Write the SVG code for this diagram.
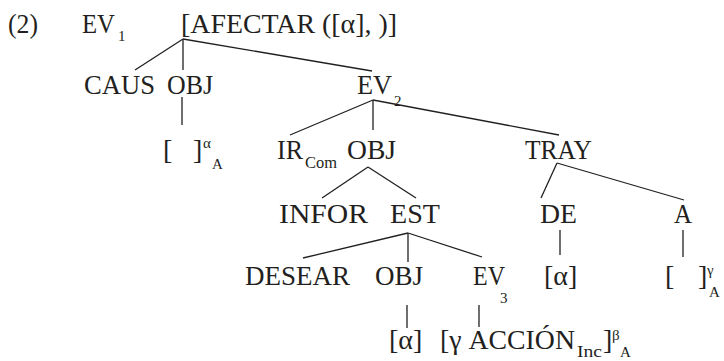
<svg xmlns="http://www.w3.org/2000/svg" width="724" height="361" viewBox="0 0 724 361">
<style>
text{font-family:"Liberation Serif","Times New Roman",serif;fill:#231f20;font-size:28px}
.s{font-size:15px}
.m{font-size:16px}
.e line{stroke:#231f20;stroke-width:1.3;fill:none}
</style>
<rect width="724" height="361" fill="#fff"/>
<g id="label"><text x="8" y="33" textLength="30" lengthAdjust="spacingAndGlyphs">(2)</text></g>
<g id="ev1"><text x="82" y="33" textLength="33" lengthAdjust="spacingAndGlyphs">EV</text><text class="s" x="118" y="41">1</text></g>
<g id="afectar"><text x="181" y="33" textLength="216" lengthAdjust="spacingAndGlyphs">[AFECTAR ([α], )]</text></g>
<g id="caus"><text x="84" y="94" textLength="71" lengthAdjust="spacingAndGlyphs">CAUS</text></g>
<g id="obj1"><text x="167" y="94" textLength="46" lengthAdjust="spacingAndGlyphs">OBJ</text></g>
<g id="ev2"><text x="357" y="94" textLength="35" lengthAdjust="spacingAndGlyphs">EV</text><text class="s" x="394" y="106">2</text></g>
<g id="slotA1"><text x="163" y="159">[</text><text x="193" y="159">]</text><text class="s" x="203" y="148">α</text><text class="s" x="212" y="169">A</text></g>
<g id="ir"><text x="277" y="159" textLength="26" lengthAdjust="spacingAndGlyphs">IR</text><text class="m" x="305" y="168" textLength="32" lengthAdjust="spacingAndGlyphs">Com</text></g>
<g id="obj2"><text x="347" y="159" textLength="49" lengthAdjust="spacingAndGlyphs">OBJ</text></g>
<g id="tray"><text x="525" y="159" textLength="67" lengthAdjust="spacingAndGlyphs">TRAY</text></g>
<g id="infor"><text x="279" y="223" textLength="89" lengthAdjust="spacingAndGlyphs">INFOR</text></g>
<g id="est"><text x="390" y="223" textLength="50" lengthAdjust="spacingAndGlyphs">EST</text></g>
<g id="de"><text x="540" y="223" textLength="37" lengthAdjust="spacingAndGlyphs">DE</text></g>
<g id="a"><text x="674" y="223" textLength="18" lengthAdjust="spacingAndGlyphs">A</text></g>
<g id="desear"><text x="245" y="285" textLength="105" lengthAdjust="spacingAndGlyphs">DESEAR</text></g>
<g id="obj3"><text x="375" y="285" textLength="48" lengthAdjust="spacingAndGlyphs">OBJ</text></g>
<g id="ev3"><text x="473" y="285" textLength="32" lengthAdjust="spacingAndGlyphs">EV</text><text class="s" x="500" y="303">3</text></g>
<g id="alpha1"><text x="544" y="285">[α]</text></g>
<g id="slotA2"><text x="665" y="285">[</text><text x="698" y="285">]</text><text class="s" x="707" y="275">γ</text><text class="s" x="709" y="297">A</text></g>
<g id="alpha2"><text x="389" y="349">[α]</text></g>
<g id="accion"><text x="440" y="349" textLength="135" lengthAdjust="spacingAndGlyphs">[γ ACCIÓN</text><text class="m" x="577" y="357" textLength="25" lengthAdjust="spacingAndGlyphs">Inc</text><text x="603" y="349">]</text><text class="s" x="612" y="340">β</text><text class="s" x="620" y="357">A</text></g>
<g id="connectors" class="e">
<line x1="183" y1="39" x2="135" y2="70"/>
<line x1="183" y1="39" x2="183" y2="70"/>
<line x1="183" y1="39" x2="372" y2="71"/>
<line x1="182" y1="97" x2="182" y2="125"/>
<line x1="373" y1="100" x2="290" y2="135"/>
<line x1="373" y1="100" x2="373" y2="130"/>
<line x1="373" y1="100" x2="559" y2="135"/>
<line x1="368" y1="167" x2="322" y2="198"/>
<line x1="368" y1="167" x2="416" y2="198"/>
<line x1="557" y1="163" x2="541" y2="198"/>
<line x1="557" y1="163" x2="684" y2="200"/>
<line x1="408" y1="233" x2="303" y2="258"/>
<line x1="408" y1="233" x2="408" y2="262"/>
<line x1="408" y1="233" x2="482" y2="257"/>
<line x1="560" y1="230" x2="560" y2="255"/>
<line x1="683" y1="230" x2="683" y2="257"/>
<line x1="407" y1="305" x2="407" y2="328"/>
<line x1="479" y1="305" x2="479" y2="327"/>
</g>
</svg>
